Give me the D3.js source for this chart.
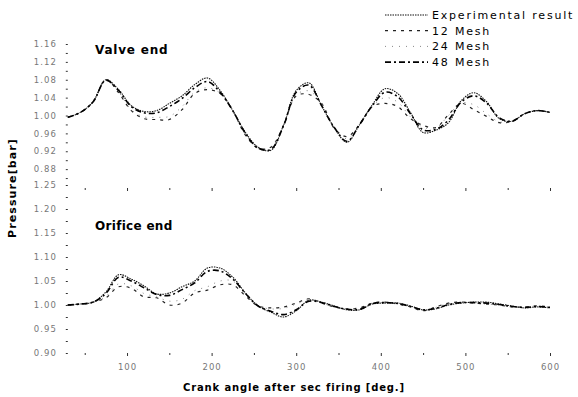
<!DOCTYPE html>
<html>
<head>
<meta charset="utf-8">
<script src="https://cdn.jsdelivr.net/npm/d3@7"></script>
<style>
  body { margin: 0; background: #fff; }
  text { font-family: "DejaVu Sans", sans-serif; }
</style>
</head>
<body>
<div id="chart"></div>
<script>
// crank angle samples [deg.]
const angles = [30, 45, 60, 75, 90, 105, 120, 135, 150, 165, 180, 195, 210, 225, 240, 255, 270, 285, 300,
  315, 330, 345, 360, 375, 390, 405, 420, 435, 450, 465, 480, 495, 510, 525, 540, 555, 570, 585, 600];

const seriesNames = ["Experimental result", "12 Mesh", "24 Mesh", "48 Mesh"];

// Valve end pressure [bar]
const valveExp = [0.996, 1.007, 1.031, 1.080, 1.058, 1.022, 1.009, 1.011, 1.027, 1.044, 1.069, 1.084, 1.056,
  1.011, 0.962, 0.929, 0.922, 0.978, 1.056, 1.073, 1.022, 0.973, 0.940, 0.980, 1.024, 1.060, 1.049, 1.007,
  0.962, 0.967, 0.984, 1.033, 1.051, 1.031, 0.993, 0.987, 1.004, 1.011, 1.007];
const valve12 = [0.996, 1.007, 1.031, 1.080, 1.051, 1.011, 0.993, 0.991, 0.991, 1.013, 1.049, 1.058, 1.049,
  1.011, 0.956, 0.927, 0.929, 0.978, 1.044, 1.047, 1.027, 0.971, 0.953, 0.980, 1.020, 1.027, 1.020, 0.993,
  0.978, 0.973, 1.002, 1.027, 1.013, 0.998, 0.984, 0.987, 1.004, 1.011, 1.007];
const valve24 = [0.996, 1.007, 1.031, 1.080, 1.053, 1.013, 0.997, 0.996, 0.998, 1.020, 1.052, 1.062, 1.050,
  1.011, 0.958, 0.927, 0.928, 0.978, 1.046, 1.055, 1.026, 0.972, 0.948, 0.980, 1.021, 1.040, 1.030, 0.997,
  0.974, 0.972, 1.000, 1.028, 1.024, 1.004, 0.986, 0.987, 1.004, 1.011, 1.007];
const valve48 = [0.996, 1.007, 1.031, 1.079, 1.056, 1.020, 1.006, 1.006, 1.020, 1.038, 1.062, 1.076, 1.052,
  1.011, 0.960, 0.927, 0.924, 0.977, 1.052, 1.068, 1.022, 0.973, 0.942, 0.980, 1.022, 1.052, 1.042, 1.004,
  0.968, 0.969, 0.990, 1.030, 1.044, 1.028, 0.995, 0.987, 1.004, 1.011, 1.007];

// Orifice end pressure [bar]
const orificeExp = [1.000, 1.002, 1.006, 1.027, 1.063, 1.054, 1.040, 1.023, 1.025, 1.038, 1.050, 1.077, 1.077,
  1.058, 1.025, 0.998, 0.985, 0.975, 0.988, 1.010, 1.006, 0.998, 0.990, 0.990, 1.002, 1.004, 1.004, 0.998,
  0.990, 0.992, 1.000, 1.004, 1.006, 1.006, 1.002, 0.998, 0.994, 0.996, 0.994];
const orifice12 = [1.000, 1.002, 1.006, 1.015, 1.038, 1.035, 1.017, 1.015, 1.000, 1.004, 1.025, 1.031, 1.042,
  1.042, 1.019, 0.998, 0.994, 0.996, 1.004, 1.013, 1.004, 0.996, 0.992, 0.994, 1.004, 1.006, 1.002, 0.996,
  0.988, 0.996, 1.004, 1.006, 1.004, 1.002, 1.000, 0.996, 0.996, 0.998, 0.996];
const orifice24 = [1.000, 1.002, 1.006, 1.018, 1.044, 1.040, 1.024, 1.017, 1.008, 1.012, 1.030, 1.038, 1.050,
  1.050, 1.021, 0.998, 0.992, 0.993, 1.002, 1.011, 1.004, 0.996, 0.991, 0.993, 1.003, 1.005, 1.003, 0.997,
  0.989, 0.995, 1.003, 1.006, 1.004, 1.002, 1.000, 0.997, 0.996, 0.998, 0.996];
const orifice48 = [1.000, 1.002, 1.006, 1.024, 1.058, 1.050, 1.036, 1.022, 1.020, 1.032, 1.046, 1.070, 1.071,
  1.054, 1.024, 0.998, 0.987, 0.980, 0.990, 1.008, 1.005, 0.997, 0.991, 0.991, 1.003, 1.005, 1.003, 0.997,
  0.990, 0.993, 1.001, 1.005, 1.005, 1.004, 1.001, 0.997, 0.995, 0.997, 0.995];

// tick labels
const xTicks = [100, 200, 300, 400, 500, 600];
const valveTicks = [1.16, 1.12, 1.08, 1.04, 1.00, 0.96, 0.92, 0.88];
const orificeTicks = [1.25, 1.20, 1.15, 1.10, 1.05, 1.00, 0.95, 0.90];

const width = 578, height = 397;
const styles = [
  { stroke: "#111", width: 1.1, dash: "1.5,1" },
  { stroke: "#222", width: 1.2, dash: "3,5" },
  { stroke: "#888", width: 1, dash: "1,6" },
  { stroke: "#000", width: 1.6, dash: "6,3,2,3" }
];

const svg = d3.select("#chart").append("svg")
  .attr("width", width)
  .attr("height", height);

const x = d3.scaleLinear().domain([30, 600]).range([67.8, 550]);
const yValve = d3.scaleLinear().domain([0.84, 1.16]).range([187, 44]);
const yOrifice = d3.scaleLinear().domain([0.90, 1.25]).range([353, 185]);

function drawAxes(y, ticks, minor, bottom, showXLabels) {
  // y axis, major + minor ticks
  const gy = svg.append("g").attr("transform", "translate(67.8,0)");
  gy.call(d3.axisLeft(y).tickValues(ticks).tickSize(2).tickPadding(9).tickFormat(d3.format(".2f")));
  gy.append("g").call(d3.axisLeft(y).tickValues(minor).tickSize(2).tickFormat(""));
  gy.selectAll(".domain").remove();

  const gx = svg.append("g").attr("transform", "translate(0," + bottom + ")");
  gx.call(d3.axisBottom(x).tickValues(xTicks).tickSize(3).tickPadding(8)
    .tickFormat(showXLabels ? d3.format("d") : ""));
  gx.append("g").call(d3.axisBottom(x).tickValues(d3.range(50, 600, 100)).tickSize(2).tickFormat(""));
  gx.selectAll(".domain").remove();

  svg.selectAll(".tick line").attr("stroke", "#333");
  svg.selectAll(".tick text").attr("fill", "#777")
    .style("font-size", "8.5px").style("letter-spacing", "1px");
}

drawAxes(yValve, valveTicks, d3.range(0.86, 1.17, 0.04), 188, false);
drawAxes(yOrifice, orificeTicks, d3.range(0.925, 1.25, 0.05), 353, true);

function drawPanel(y, data) {
  data.forEach((vals, i) => {
    const line = d3.line()
      .x((d, j) => x(angles[j]))
      .y(d => y(d))
      .curve(d3.curveCatmullRom);
    svg.append("path")
      .datum(vals)
      .attr("d", line)
      .attr("fill", "none")
      .attr("stroke", styles[i].stroke)
      .attr("stroke-width", styles[i].width)
      .attr("stroke-dasharray", styles[i].dash);
  });
}

drawPanel(yValve, [valveExp, valve12, valve24, valve48]);
drawPanel(yOrifice, [orificeExp, orifice12, orifice24, orifice48]);

// panel labels
svg.append("text").attr("x", 95).attr("y", 54).text("Valve end")
  .style("font-size", "12px").style("font-weight", "bold").style("letter-spacing", "0.8px");
svg.append("text").attr("x", 95).attr("y", 230).text("Orifice end")
  .style("font-size", "12px").style("font-weight", "bold").style("letter-spacing", "0.3px");

// axis titles
svg.append("text")
  .attr("transform", "translate(16,188) rotate(-90)")
  .attr("text-anchor", "middle")
  .text("Pressure[bar]")
  .style("font-size", "11px").style("font-weight", "bold").style("letter-spacing", "1.1px");
svg.append("text")
  .attr("x", 294).attr("y", 391)
  .attr("text-anchor", "middle")
  .text("Crank angle after sec firing [deg.]")
  .style("font-size", "10px").style("font-weight", "bold").style("letter-spacing", "0.85px");

// legend
const legend = svg.append("g");
seriesNames.forEach((name, i) => {
  const ly = 15 + i * 15.7;
  legend.append("line")
    .attr("x1", 385).attr("x2", 428).attr("y1", ly).attr("y2", ly)
    .attr("stroke", styles[i].stroke)
    .attr("stroke-width", styles[i].width)
    .attr("stroke-dasharray", styles[i].dash);
  legend.append("text")
    .attr("x", 432).attr("y", ly + 4)
    .text(name)
    .style("font-size", "11px").style("letter-spacing", "1.8px");
});
</script>
</body>
</html>
